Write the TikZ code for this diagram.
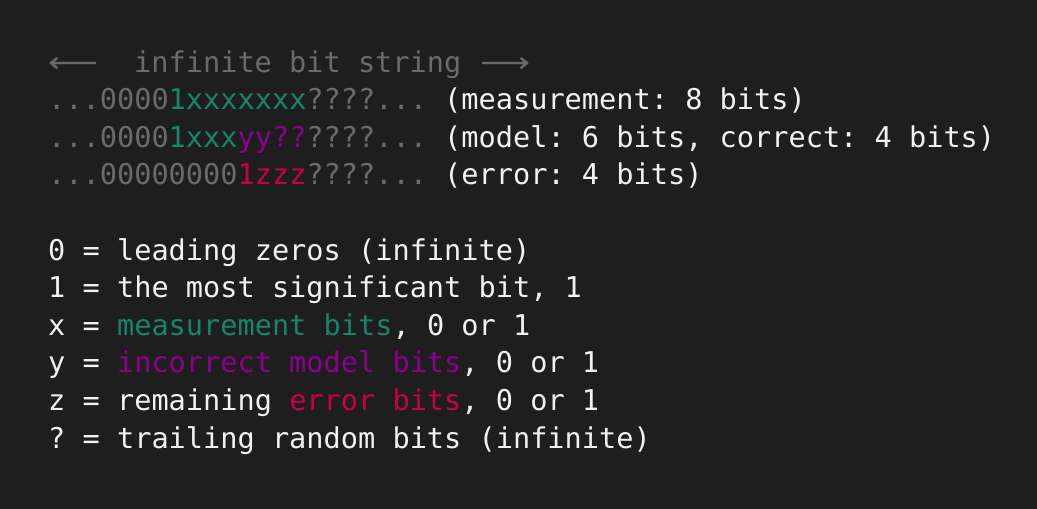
\documentclass[tikz,border=0pt]{standalone}
\usepackage{fontspec}
\setmonofont{DejaVu Sans Mono}
\newfontfamily\arrowfont{DejaVu Sans}
\usetikzlibrary{positioning}
\usepackage{xcolor}
\definecolor{bgdark}{HTML}{1E1E1E}
\definecolor{dimgray}{HTML}{6A6A6A}
\definecolor{measgreen}{HTML}{16856A}
\definecolor{modelpurple}{HTML}{8C008C}
\definecolor{errred}{HTML}{C8004A}
\definecolor{plainwhite}{HTML}{F2F2F2}
\newcommand{\gr}[1]{\textcolor{dimgray}{#1}}
\newcommand{\gn}[1]{\textcolor{measgreen}{#1}}
\newcommand{\pu}[1]{\textcolor{modelpurple}{#1}}
\newcommand{\rd}[1]{\textcolor{errred}{#1}}
\newcommand{\cw}{17.2}

\begin{document}
\begin{tikzpicture}[x=1pt, y=-1pt,
  row/.style = {anchor=base west, inner sep=0pt, text=plainwhite,
    font=\ttfamily\fontsize{28.6}{37.6}\selectfont},
  arrow/.style = {row, text=dimgray, font=\arrowfont\fontsize{28.6}{37.6}\selectfont}]
\fill[bgdark] (0,0) rectangle (1037,509);
% the bit strings
\node[arrow] (arrL) at (48,72) {\scalebox{1.22}[1]{⟵}};
\node[row, text=dimgray] (title) at ({48+5*\cw},72) {infinite bit string};
\node[arrow] (arrR) at (480,72) {\scalebox{1.22}[1]{⟶}};
\node[row] (meas) at (48,109.6) {\gr{...0000}\gn{1xxxxxxx}\gr{????...} (measurement: 8 bits)};
\node[row] (model) at (48,147.2) {\gr{...0000}\gn{1xxx}\pu{yy??}\gr{????...} (model: 6 bits, correct: 4 bits)};
\node[row] (err) at (48,184.8) {\gr{...00000000}\rd{1zzz}\gr{????...} (error: 4 bits)};
% legend
\node[row] (key0) at (48,260) {0 = leading zeros (infinite)};
\node[row] (key1) at (48,297.6) {1 = the most significant bit, 1};
\node[row] (keyx) at (48,335.2) {x = \gn{measurement bits}, 0 or 1};
\node[row] (keyy) at (48,372.8) {y = \pu{incorrect model bits}, 0 or 1};
\node[row] (keyz) at (48,410.4) {z = remaining \rd{error bits}, 0 or 1};
\node[row] (keyq) at (48,448) {? = trailing random bits (infinite)};
\end{tikzpicture}
\end{document}
